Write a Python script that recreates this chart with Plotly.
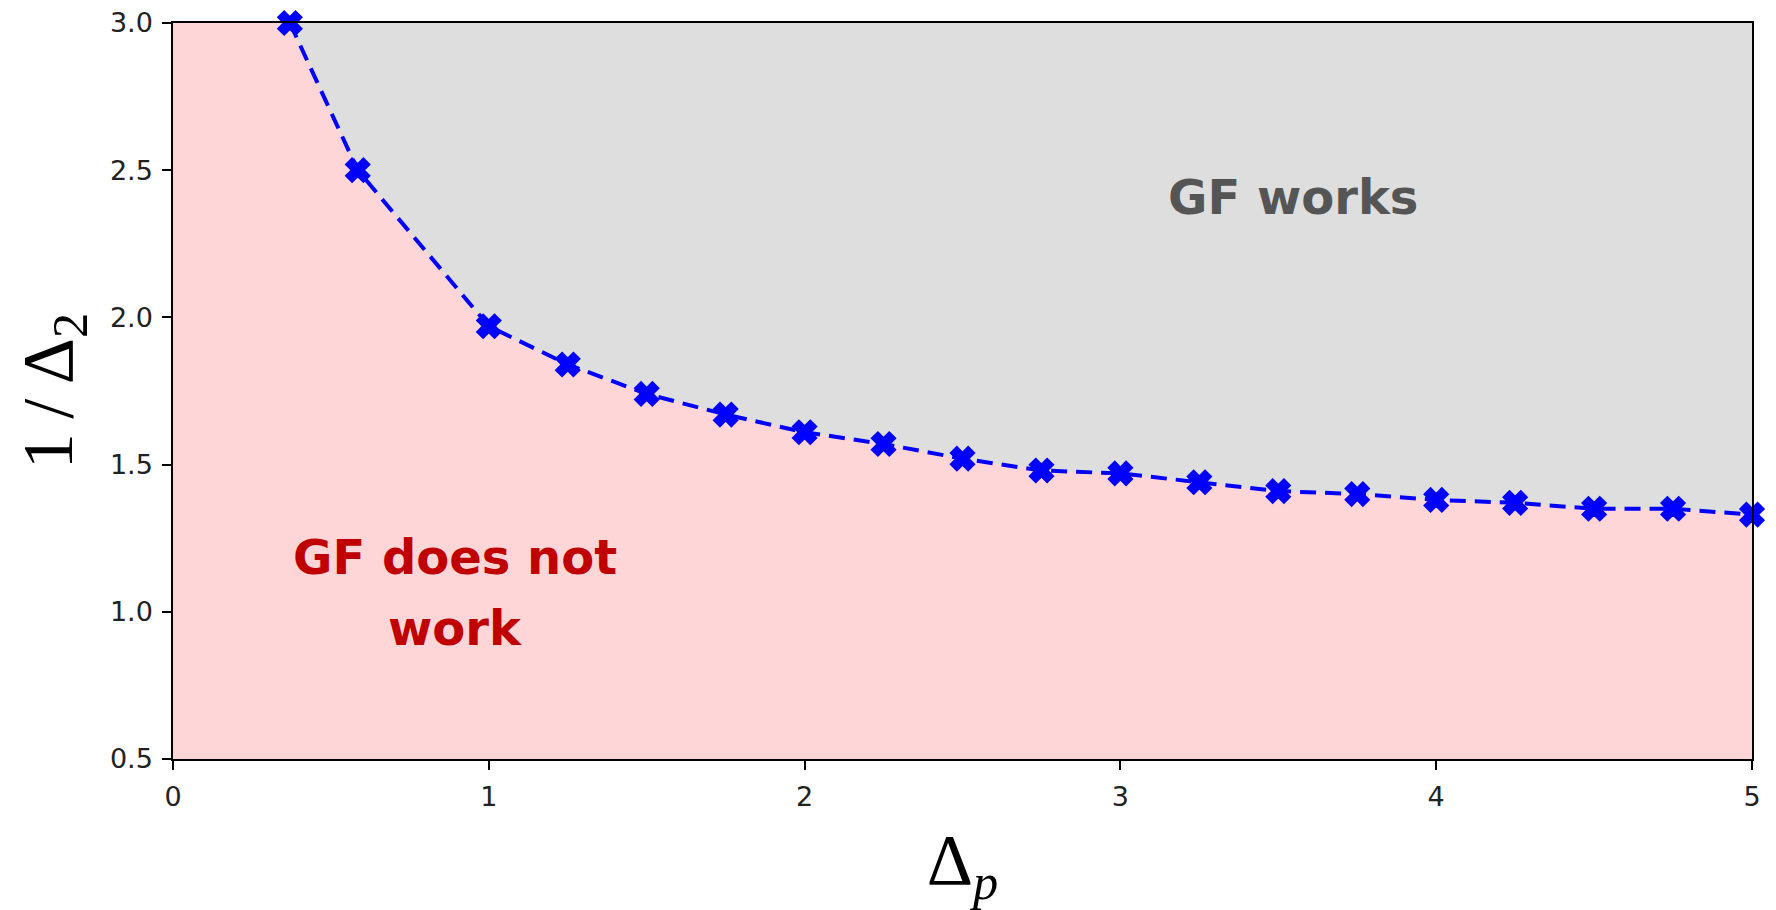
import plotly.graph_objects as go

# Data
delta_p = [0.37, 0.585, 1.0, 1.25, 1.5, 1.75, 2.0, 2.25, 2.5, 2.75, 3.0,
           3.25, 3.5, 3.75, 4.0, 4.25, 4.5, 4.75, 5.0]
inv_delta2 = [3.0, 2.5, 1.97, 1.84, 1.74, 1.67, 1.61, 1.57, 1.52, 1.48, 1.47,
              1.44, 1.41, 1.40, 1.38, 1.37, 1.35, 1.35, 1.33]
x_range = [0, 5]
y_range = [0.5, 3.0]
x_ticks = [0, 1, 2, 3, 4, 5]
y_ticks = [0.5, 1.0, 1.5, 2.0, 2.5, 3.0]

fig = go.Figure()

# pink region (GF does not work): below the boundary curve
fill_x = [x_range[0], x_range[0]] + delta_p + [x_range[1]]
fill_y = [y_range[0], y_range[1]] + inv_delta2 + [y_range[0]]
fig.add_trace(go.Scatter(
    x=fill_x, y=fill_y, mode="lines", fill="toself",
    fillcolor="#ffd6d8", line=dict(width=0), hoverinfo="skip", showlegend=False))

fig.add_trace(go.Scatter(
    x=delta_p, y=inv_delta2, mode="lines+markers",
    line=dict(color="#0000ff", width=4, dash="16px,9px"),
    marker=dict(symbol="x", size=20, color="#0000ff",
                line=dict(width=2.5, color="#0000ff")),
    showlegend=False, cliponaxis=False))

fig.add_annotation(x=3.547, y=2.41, text="<b>GF works</b>", showarrow=False,
                   font=dict(family="DejaVu Sans", size=48, color="#555555"),
                   xanchor="center", yanchor="middle")
fig.add_annotation(x=0.893, y=1.186, text="<b>GF does not</b>", showarrow=False,
                   font=dict(family="DejaVu Sans", size=48, color="#c00000"),
                   xanchor="center", yanchor="middle")
fig.add_annotation(x=0.893, y=0.945, text="<b>work</b>", showarrow=False,
                   font=dict(family="DejaVu Sans", size=48, color="#c00000"),
                   xanchor="center", yanchor="middle")

axis_common = dict(showline=True, linecolor="black", linewidth=1.5, mirror=True,
                   ticks="outside", ticklen=9, tickwidth=1.5, tickcolor="black",
                   showgrid=False, zeroline=False, ticklabelstandoff=4,
                   ticklabeloverflow="allow", automargin=False,
                   tickfont=dict(family="DejaVu Sans", size=27, color="#222222"))

fig.update_xaxes(range=x_range, tickvals=x_ticks, ticktext=[str(v) for v in x_ticks],
                 title=dict(text="Δ<sub><i>p</i></sub>",
                            font=dict(family="Liberation Serif", size=72, color="black"),
                            standoff=31),
                 **axis_common)
fig.update_yaxes(range=y_range, tickvals=y_ticks, ticktext=[f"{v:.1f}" for v in y_ticks],
                 title=dict(text="1\u2009/\u2009Δ<sub>2</sub>",
                            font=dict(family="Liberation Serif", size=72, color="black"),
                            standoff=18),
                 **axis_common)

# page body adds an 8px offset; margins are compensated for it
fig.update_layout(
    width=1768, height=902,
    margin=dict(l=165, r=24, t=15, b=151),
    plot_bgcolor="#dedede", paper_bgcolor="white",
)

fig.write_html("out.html")
